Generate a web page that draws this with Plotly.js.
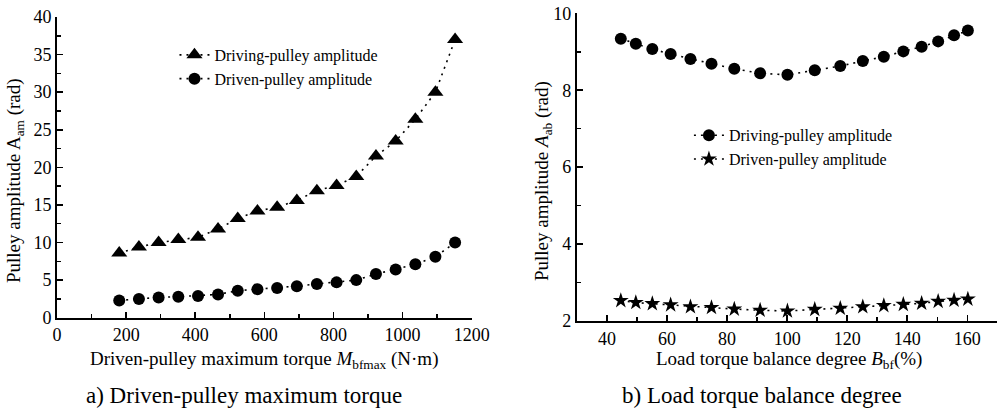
<!DOCTYPE html>
<html>
<head>
<meta charset="utf-8">
<script src="https://cdn.plot.ly/plotly-3.0.1.min.js"></script>
<style>html,body{margin:0;padding:0;background:#fff;}#chart{width:997px;height:408px;}</style>
</head>
<body>
<div id="chart"></div>
<script>
// Panel a) data
const torqueX = [180, 237, 294, 351, 408, 466, 523, 580, 637, 694, 752, 809, 866, 923, 980, 1037, 1095, 1152];
const drivingAmpA = [8.6, 9.4, 10.0, 10.4, 10.7, 11.8, 13.2, 14.2, 14.7, 15.6, 16.9, 17.6, 18.8, 21.5, 23.5, 26.4, 30.0, 37.0];
const drivenAmpA = [2.3, 2.5, 2.7, 2.8, 2.9, 3.1, 3.6, 3.8, 3.95, 4.2, 4.5, 4.7, 5.0, 5.8, 6.4, 7.1, 8.1, 10.0];
// Panel b) data
const balanceX = [44.6, 49.6, 55.1, 61.2, 67.8, 74.8, 82.4, 91.0, 100.1, 109.2, 117.7, 125.2, 132.2, 138.7, 144.8, 150.3, 155.6, 160.2];
const drivingAmpB = [9.34, 9.21, 9.07, 8.94, 8.81, 8.69, 8.56, 8.44, 8.40, 8.52, 8.63, 8.76, 8.87, 9.01, 9.13, 9.27, 9.43, 9.55];
const drivenAmpB = [2.53, 2.48, 2.45, 2.42, 2.37, 2.35, 2.31, 2.28, 2.26, 2.30, 2.33, 2.37, 2.40, 2.43, 2.46, 2.51, 2.54, 2.57];
const xTicksA = [0, 200, 400, 600, 800, 1000, 1200];
const yTicksA = [0, 5, 10, 15, 20, 25, 30, 35, 40];
const xTicksB = [40, 60, 80, 100, 120, 140, 160];
const yTicksB = [2, 4, 6, 8, 10];

const FONT = 'Liberation Serif, serif';
const lineStyle = {color: '#000', width: 1.6, dash: '2px,5px'};

const traces = [
  {x: torqueX, y: drivingAmpA, xaxis: 'x', yaxis: 'y', type: 'scatter', mode: 'lines+markers',
   name: 'Driving-pulley amplitude', line: lineStyle, marker: {symbol: 'triangle-up', size: 14, color: '#000'}, legend: 'legend'},
  {x: torqueX, y: drivenAmpA, xaxis: 'x', yaxis: 'y', type: 'scatter', mode: 'lines+markers',
   name: 'Driven-pulley amplitude', line: lineStyle, marker: {symbol: 'circle', size: 12, color: '#000'}, legend: 'legend'},
  {x: balanceX, y: drivingAmpB, xaxis: 'x2', yaxis: 'y2', type: 'scatter', mode: 'lines+markers',
   name: 'Driving-pulley amplitude', line: lineStyle, marker: {symbol: 'circle', size: 12, color: '#000'}, legend: 'legend2'},
  {x: balanceX, y: drivenAmpB, xaxis: 'x2', yaxis: 'y2', type: 'scatter', mode: 'lines+markers',
   name: 'Driven-pulley amplitude', line: lineStyle, marker: {symbol: 'star', size: 12, color: '#000'}, legend: 'legend2'}
];

const axCommon = {
  showline: true, linecolor: '#000', linewidth: 2, showgrid: false, zeroline: false,
  ticks: 'inside', ticklen: 6, tickwidth: 1.5, tickcolor: '#000',
  tickfont: {family: FONT, size: 18, color: '#000'}, mirror: false
};

const layout = {
  width: 997, height: 408,
  margin: {l: 0, r: 0, t: 0, b: 0},
  paper_bgcolor: '#fff', plot_bgcolor: 'rgba(0,0,0,0)',
  font: {family: FONT, color: '#000'},
  showlegend: true,
  xaxis: Object.assign({}, axCommon, {domain: [0.0572, 0.4731], range: [0, 1200], tickvals: xTicksA, anchor: 'y',
    minor: {dtick: 100, ticks: 'inside', ticklen: 4, tickwidth: 1.5, tickcolor: '#000'}}),
  yaxis: Object.assign({}, axCommon, {domain: [0.2213, 0.9583], range: [0, 40], tickvals: yTicksA, anchor: 'x',
    minor: {dtick: 2.5, ticks: 'inside', ticklen: 4, tickwidth: 1.5, tickcolor: '#000'}}),
  xaxis2: Object.assign({}, axCommon, {domain: [0.5787, 1.0], range: [30, 169.9], tickvals: xTicksB, anchor: 'y2',
    minor: {dtick: 10, ticks: 'inside', ticklen: 4, tickwidth: 1.5, tickcolor: '#000'}}),
  yaxis2: Object.assign({}, axCommon, {domain: [0.2132, 0.9674], range: [2, 10], tickvals: yTicksB, anchor: 'x2',
    minor: {dtick: 1, ticks: 'inside', ticklen: 4, tickwidth: 1.5, tickcolor: '#000'}}),
  legend: {x: 0.175, y: 0.907, xanchor: 'left', yanchor: 'top', bgcolor: 'rgba(0,0,0,0)',
    font: {family: FONT, size: 16, color: '#000'}, tracegroupgap: 0, itemwidth: 30},
  legend2: {x: 0.691, y: 0.71, xanchor: 'left', yanchor: 'top', bgcolor: 'rgba(0,0,0,0)',
    font: {family: FONT, size: 16, color: '#000'}, tracegroupgap: 0, itemwidth: 30},
  annotations: [
    {text: 'Driven-pulley maximum torque <i>M</i><sub>bfmax</sub> (N·m)', xref: 'paper', yref: 'paper',
     x: 264/997, y: 1 - 360/408, xanchor: 'center', yanchor: 'middle', showarrow: false,
     font: {family: FONT, size: 19, color: '#000'}},
    {text: 'Load torque balance degree <i>B</i><sub>bf</sub>(%)', xref: 'paper', yref: 'paper',
     x: 789/997, y: 1 - 360/408, xanchor: 'center', yanchor: 'middle', showarrow: false,
     font: {family: FONT, size: 19, color: '#000'}},
    {text: 'Pulley amplitude A<sub>am</sub> (rad)', xref: 'paper', yref: 'paper', textangle: -90,
     x: 15/997, y: 1 - 181/408, xanchor: 'center', yanchor: 'middle', showarrow: false,
     font: {family: FONT, size: 19, color: '#000'}},
    {text: 'Pulley amplitude <i>A</i><sub>ab</sub> (rad)', xref: 'paper', yref: 'paper', textangle: -90,
     x: 543/997, y: 1 - 181/408, xanchor: 'center', yanchor: 'middle', showarrow: false,
     font: {family: FONT, size: 19, color: '#000'}},
    {text: 'a) Driven-pulley maximum torque', xref: 'paper', yref: 'paper',
     x: 244/997, y: 1 - 395/408, xanchor: 'center', yanchor: 'middle', showarrow: false,
     font: {family: FONT, size: 23, color: '#000'}},
    {text: 'b) Load torque balance degree', xref: 'paper', yref: 'paper',
     x: 762/997, y: 1 - 395/408, xanchor: 'center', yanchor: 'middle', showarrow: false,
     font: {family: FONT, size: 23, color: '#000'}}
  ]
};

Plotly.newPlot('chart', traces, layout, {displayModeBar: false, staticPlot: true});
</script>
</body>
</html>
